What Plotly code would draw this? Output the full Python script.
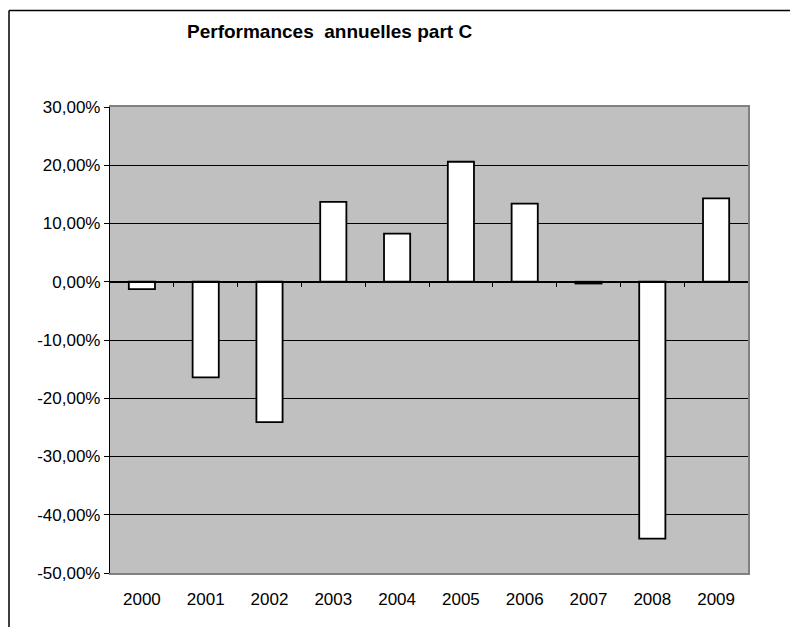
import plotly.graph_objects as go

years = ["2000", "2001", "2002", "2003", "2004", "2005", "2006", "2007", "2008", "2009"]
perf = [-1.25, -16.4, -24.1, 13.7, 8.25, 20.6, 13.4, -0.3, -44.1, 14.3]
y_ticks = [-50, -40, -30, -20, -10, 0, 10, 20, 30]
y_ticklabels = [f"{v:.2f}".replace(".", ",") + "%" for v in y_ticks]
title_text = "Performances  annuelles part C"

W, H = 790, 627
L, R, T, B = 110, 42, 107, 54
pw, ph = W - L - R, H - T - B
ymin, ymax = y_ticks[0], y_ticks[-1]

fig = go.Figure()
fig.add_trace(go.Bar(
    x=years, y=perf,
    marker=dict(color="white", line=dict(color="black", width=1.8)),
    showlegend=False, hoverinfo="x+y",
))
# invisible helper trace so the zero-axis with boundary ticks is drawn
fig.add_trace(go.Scatter(x=[], y=[], xaxis="x2", yaxis="y2", showlegend=False))

font = "Liberation Sans, Arial, sans-serif"
fx0 = (9 - L) / pw
fy1 = (T + ph - 10.5) / ph
fig.update_layout(
    width=W, height=H,
    margin=dict(l=L, r=R, t=T, b=B, pad=0),
    paper_bgcolor="white",
    plot_bgcolor="#C0C0C0",
    bargap=0.59,
    font=dict(family=font, size=17, color="black"),
    xaxis=dict(
        type="category", range=[-0.5, len(years) - 0.5],
        showgrid=False, zeroline=False,
        showline=True, linecolor="#808080", linewidth=1.5, mirror=True,
        ticks="outside", ticklen=10, tickcolor="rgba(0,0,0,0)",
        tickfont=dict(size=17),
    ),
    yaxis=dict(
        range=[ymin, ymax], tickvals=y_ticks, ticktext=y_ticklabels,
        showgrid=True, gridcolor="black", gridwidth=1,
        zeroline=False,
        showline=True, linecolor="black", linewidth=1.2,
        ticks="outside", ticklen=5, tickcolor="black",
        tickfont=dict(size=17),
    ),
    xaxis2=dict(
        overlaying="x", anchor="free",
        position=(0 - ymin) / (ymax - ymin),
        range=[-0.5, len(years) - 0.5],
        tickvals=[i + 0.5 for i in range(len(years) - 1)],
        showticklabels=False, showgrid=False, zeroline=False,
        showline=True, linecolor="black", linewidth=1.2,
        ticks="outside", ticklen=4, tickcolor="black",
    ),
    yaxis2=dict(
        overlaying="y", side="right", range=[ymin, ymax],
        showticklabels=False, showgrid=False, zeroline=False,
        showline=True, linecolor="#808080", linewidth=2, ticks="",
    ),
    annotations=[dict(
        text="<b>" + title_text + "</b>", showarrow=False,
        xref="paper", yref="paper",
        x=(329 - L) / pw, y=(T + ph - 31) / ph,
        xanchor="center", yanchor="middle",
        font=dict(family=font, size=19, color="black"),
    )],
    shapes=[
        dict(type="line", xref="paper", yref="paper",
             x0=fx0, x1=(W + 20 - L) / pw, y0=fy1, y1=fy1,
             line=dict(color="black", width=1.5)),
        dict(type="line", xref="paper", yref="paper",
             x0=fx0, x1=fx0, y0=-(B + 20) / ph, y1=fy1,
             line=dict(color="black", width=1.5)),
    ],
)

fig.write_html(
    "out.html",
    config={"displayModeBar": False},
    post_script="document.body.style.margin='0';document.body.style.overflow='hidden';",
)
